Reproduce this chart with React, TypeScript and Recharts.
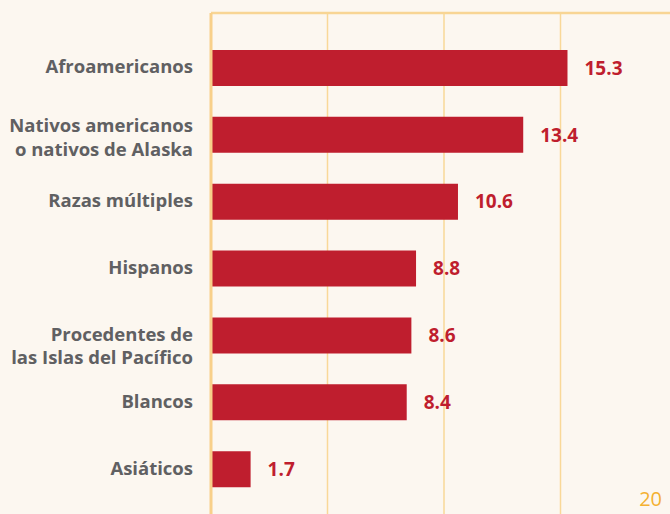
import { Bar, BarChart, CartesianGrid, LabelList, XAxis, YAxis } from "recharts"

const groups = [
  "Afroamericanos",
  "Nativos americanos\no nativos de Alaska",
  "Razas múltiples",
  "Hispanos",
  "Procedentes de\nlas Islas del Pacífico",
  "Blancos",
  "Asiáticos",
]
const rates = [15.3, 13.4, 10.6, 8.8, 8.6, 8.4, 1.7]
const xTicks = [0, 5, 10, 15, 20]

const data = groups.map((g, i) => ({ group: g, rate: rates[i] }))

const FONT = "'Open Sans', sans-serif"

// the Pacific Islanders label sits a little low in the original
const NUDGE: Record<number, number> = { 4: 8 }

function GroupTick(props: any) {
  const { x, y, payload, index } = props
  const lines: string[] = String(payload.value).split("\n")
  const lh = 23.3
  const multi = lines.length > 1
  const first = multi ? -2.8 : 5
  const nudge = NUDGE[index] ?? 0
  return (
    <text
      x={x}
      y={y + nudge}
      textAnchor="end"
      fill="#606062"
      fontFamily={FONT}
      fontWeight={700}
      fontSize={18.5}
    >
      {lines.map((l, i) => (
        <tspan key={i} x={x} dy={i === 0 ? first : lh}>
          {l}
        </tspan>
      ))}
    </text>
  )
}

export default function App() {
  return (
    <div
      style={{
        position: "fixed",
        top: 0,
        left: 0,
        width: 670,
        height: 514,
        overflow: "hidden",
        background: "#fcf7f0",
      }}
    >
      <BarChart
        width={677}
        height={514}
        data={data}
        layout="vertical"
        margin={{ top: 12, right: 0, bottom: 0, left: 0 }}
      >
        <CartesianGrid horizontal={false} stroke="#f9d898" strokeWidth={1.5} />
        <XAxis
          type="number"
          domain={[0, 20]}
          ticks={xTicks}
          orientation="top"
          height={1}
          tick={() => <g />}
          tickLine={false}
          axisLine={{ stroke: "#f8d594", strokeWidth: 2.5 }}
        />
        <YAxis
          type="category"
          dataKey="group"
          width={211}
          tickSize={0}
          tickMargin={18}
          tickLine={false}
          axisLine={{ stroke: "#f8d08a", strokeWidth: 3 }}
          tick={<GroupTick />}
          padding={{ top: 22, bottom: 11 }}
          interval={0}
        />
        <Bar dataKey="rate" fill="#bf1e2e" barSize={36} isAnimationActive={false}>
          <LabelList
            dataKey="rate"
            position="right"
            offset={17}
            fill="#bf1e2e"
            fontFamily={FONT}
            fontWeight={700}
            fontSize={19}
            formatter={(v: any) => Number(v).toFixed(1)}
          />
        </Bar>
      </BarChart>
      <div
        style={{
          position: "absolute",
          right: 8,
          bottom: 2,
          color: "#f4b131",
          fontFamily: FONT,
          fontSize: 20,
        }}
      >
        20
      </div>
    </div>
  )
}
